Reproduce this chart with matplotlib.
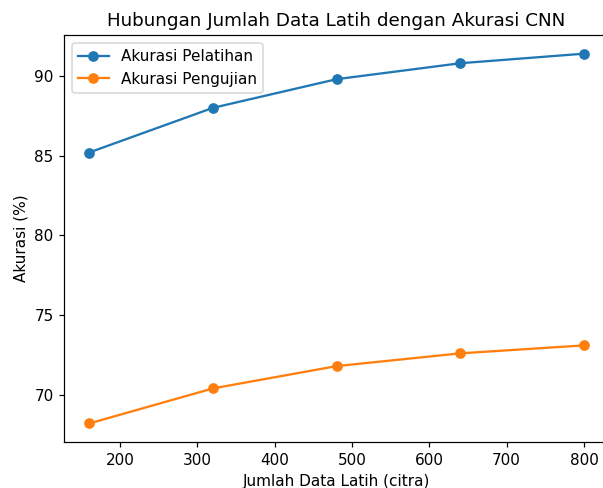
import matplotlib
matplotlib.use("Agg")
import matplotlib.pyplot as plt

jumlah_data = [160, 320, 480, 640, 800]
akurasi_pelatihan = [85.2, 88.0, 89.8, 90.8, 91.4]
akurasi_pengujian = [68.2, 70.4, 71.8, 72.6, 73.1]

# reference looks like a slightly enlarged render, cropped at the right edge
dpi = 110
fig = plt.figure(figsize=(603 / dpi, 488 / dpi), dpi=dpi)
ax = fig.add_axes([0.1068, 0.0943, 0.9027, 0.8336])

ax.plot(jumlah_data, akurasi_pelatihan, marker='o', label='Akurasi Pelatihan')
ax.plot(jumlah_data, akurasi_pengujian, marker='o', label='Akurasi Pengujian')

ax.set_title('Hubungan Jumlah Data Latih dengan Akurasi CNN')
ax.set_xlabel('Jumlah Data Latih (citra)')
ax.set_ylabel('Akurasi (%)')
ax.legend(loc='upper left')

fig.savefig('out.png', dpi=dpi)
